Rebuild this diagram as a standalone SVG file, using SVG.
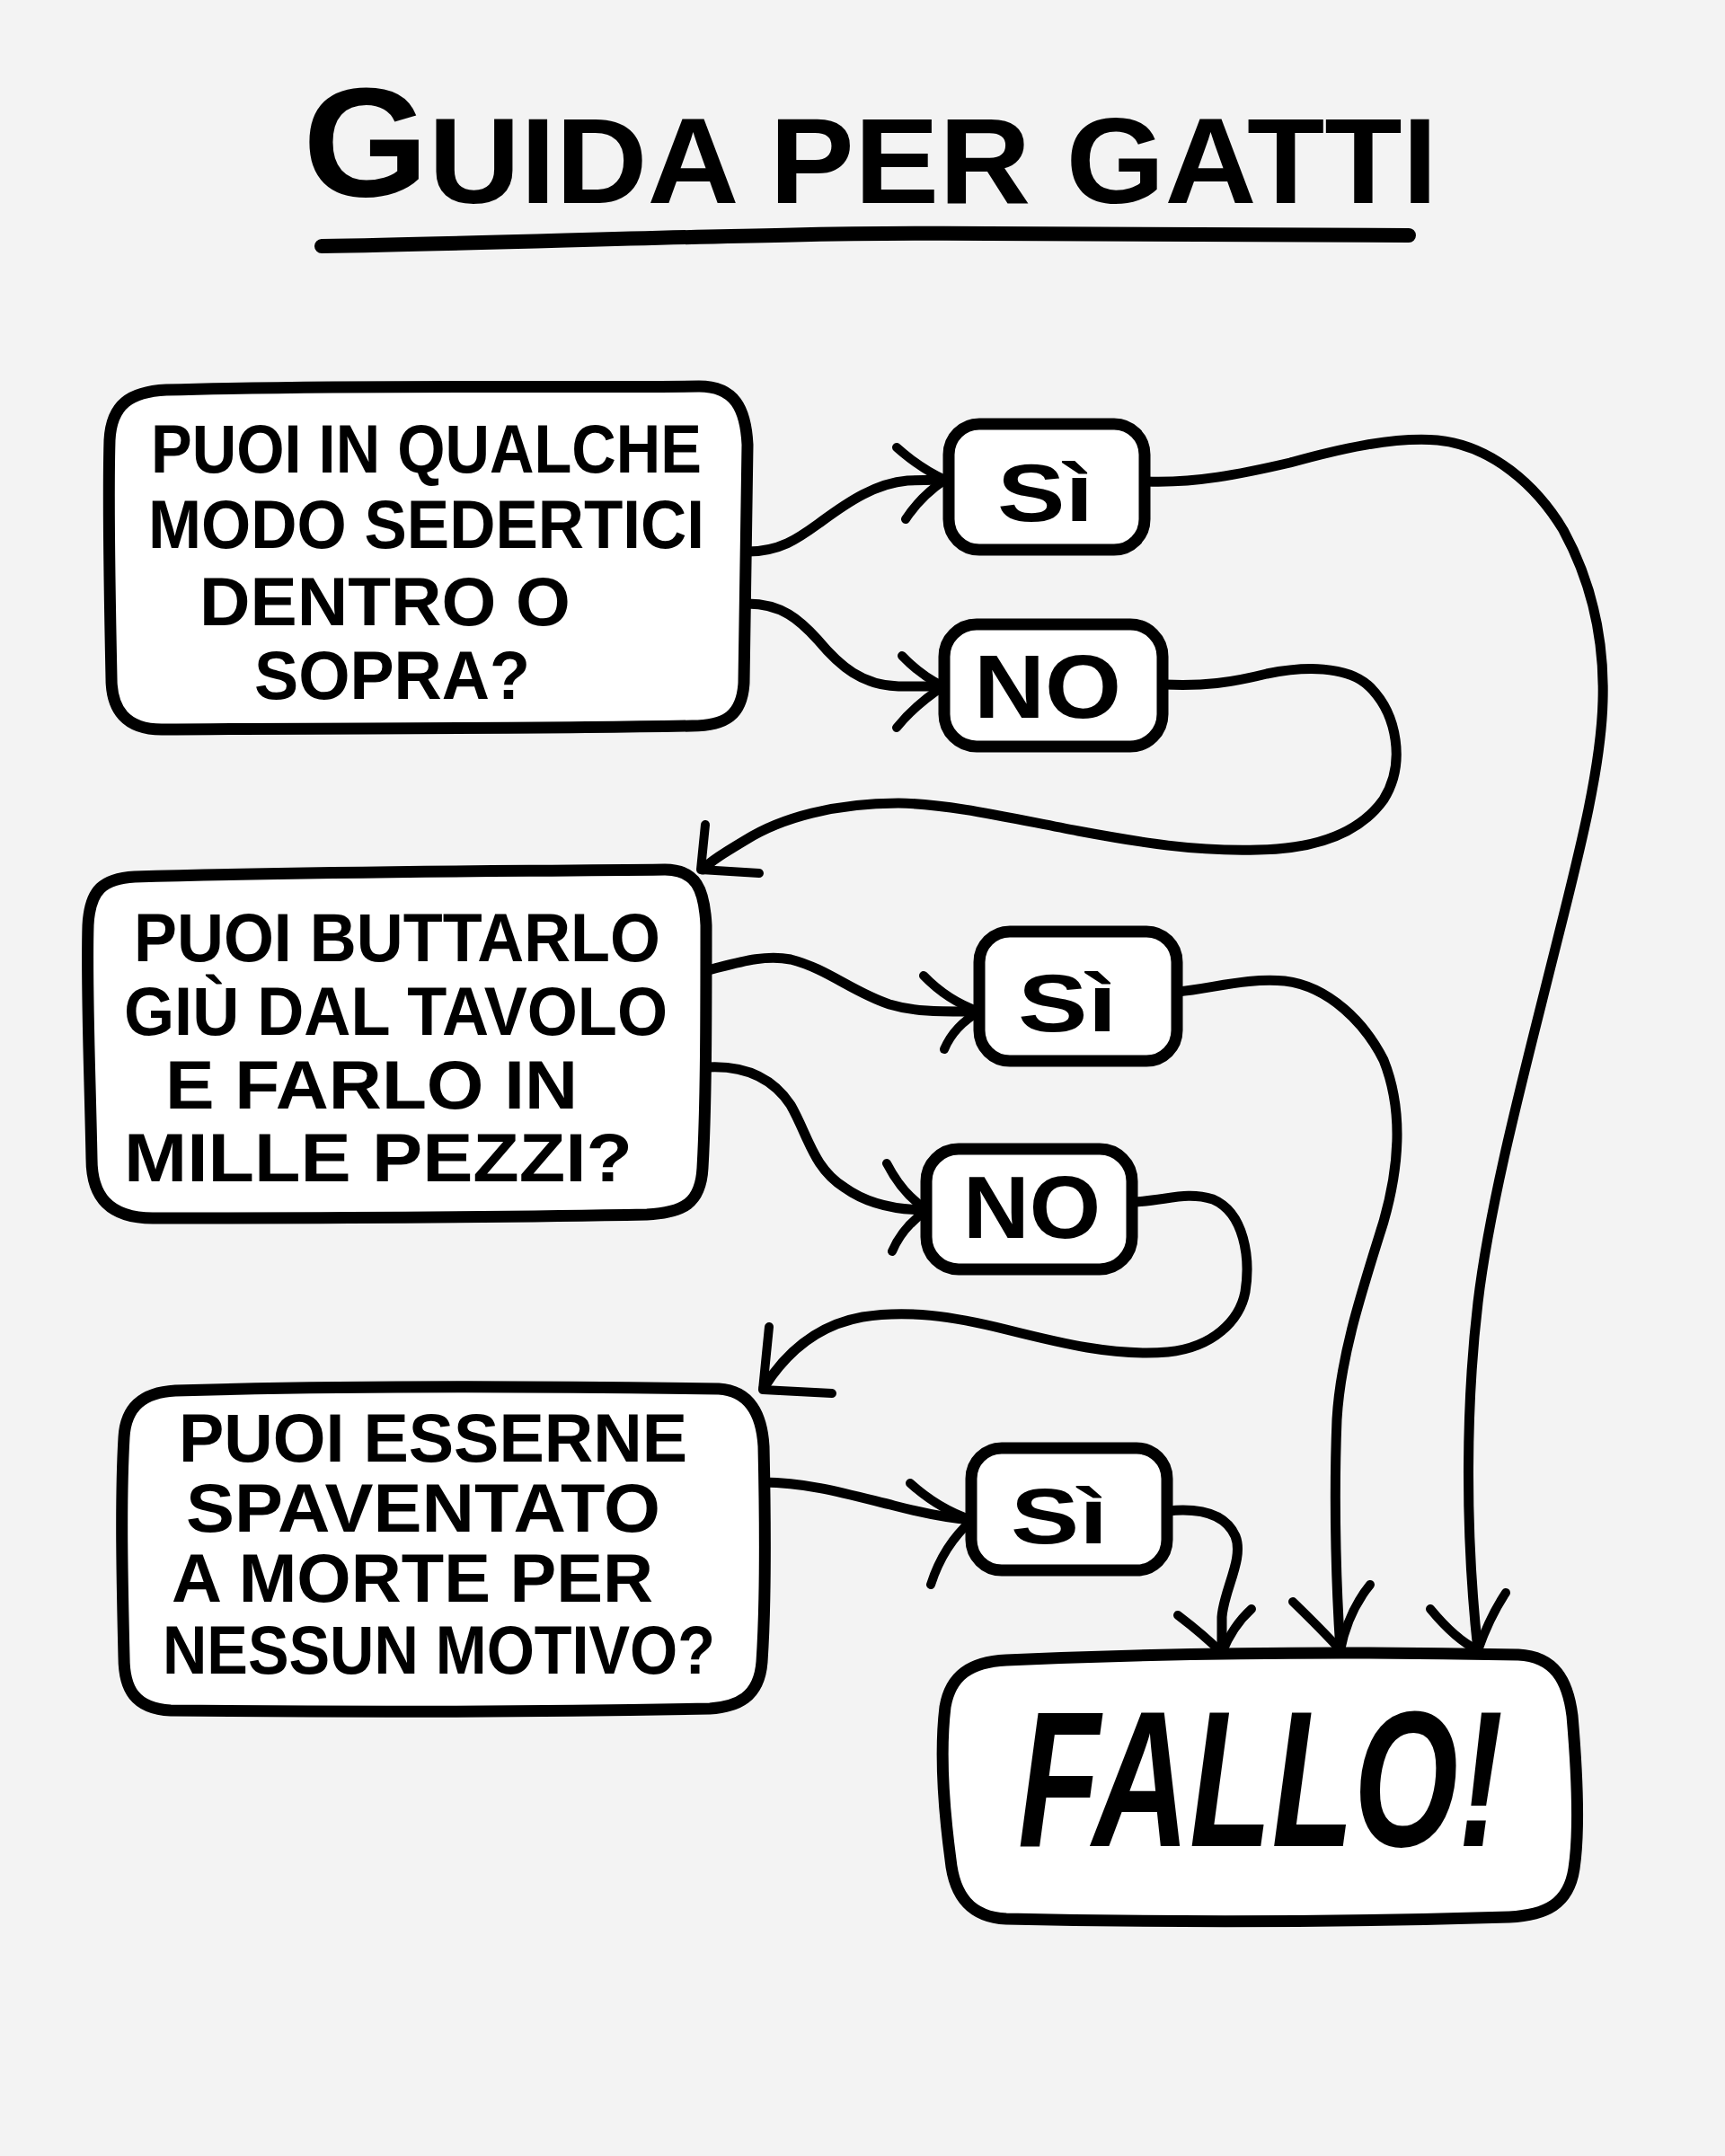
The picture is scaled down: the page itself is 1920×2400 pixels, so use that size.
<svg xmlns="http://www.w3.org/2000/svg" width="1920" height="2400" viewBox="0 0 1920 2400">
<style>
.box{fill:#ffffff;stroke:#000;stroke-width:13;stroke-linejoin:round}
.con{fill:none;stroke:#000;stroke-width:11;stroke-linecap:round;stroke-linejoin:round}
.arm{fill:none;stroke:#000;stroke-width:10;stroke-linecap:round;stroke-linejoin:round}
.q{font-family:"Liberation Sans","DejaVu Sans",sans-serif;font-weight:700;font-size:76px;fill:#000}
.a{font-family:"Liberation Sans","DejaVu Sans",sans-serif;font-weight:700;fill:#000}
</style>
<rect x="0" y="0" width="1920" height="2400" fill="#f3f3f3"/>

<g id="title">
<text class="a" x="337" y="226" font-size="135" textLength="1263" lengthAdjust="spacingAndGlyphs"><tspan font-size="172" dy="-8">G</tspan><tspan dy="8">UIDA PER GATTI</tspan></text>
<path d="M 358,274 C 600,270 880,258 1100,260 C 1300,262 1450,262 1568,262" fill="none" stroke="#000" stroke-width="16" stroke-linecap="round"/>
</g>

<g id="connectors">
<!-- Box1 -> Si1 -->
<path class="con" d="M 832,614 C 870,614 890,598 915,580 C 945,558 975,538 1010,535 L 1052,534"/>
<path class="arm" d="M 998,498 Q 1025,522 1052,534 Q 1025,552 1008,578"/>
<!-- Box1 -> NO1 -->
<path class="con" d="M 832,672 C 870,672 890,690 910,712 C 935,742 960,763 1000,764 L 1050,764"/>
<path class="arm" d="M 1004,730 Q 1025,752 1050,764 Q 1018,785 998,810"/>
<!-- Si1 -> FALLO -->
<path class="con" d="M 1276,536 C 1330,538 1380,528 1436,515 C 1490,500 1550,486 1600,490 C 1660,496 1710,540 1740,590 C 1770,645 1786,710 1784,780 C 1782,860 1755,960 1725,1080 C 1695,1200 1658,1340 1645,1450 C 1632,1560 1630,1700 1645,1837"/>
<path class="arm" d="M 1592,1791 Q 1620,1825 1645,1837 Q 1658,1800 1676,1773"/>
<!-- NO1 -> Box2 -->
<path class="con" d="M 1296,762 C 1340,764 1370,760 1410,750 C 1450,742 1500,740 1525,765 C 1555,795 1565,850 1540,890 C 1515,925 1470,945 1400,946 C 1330,948 1270,938 1200,925 C 1130,912 1060,895 1000,894 C 930,894 870,910 830,935 C 805,950 792,958 782,968"/>
<path class="arm" d="M 785,918 L 780,968 L 845,972"/>
<!-- Box2 -> Si2 -->
<path class="con" d="M 788,1080 C 820,1072 850,1062 880,1068 C 920,1078 950,1105 990,1118 C 1020,1127 1050,1126 1090,1126"/>
<path class="arm" d="M 1028,1086 Q 1055,1114 1090,1126 Q 1062,1142 1051,1168"/>
<!-- Box2 -> NO2 -->
<path class="con" d="M 788,1188 C 830,1186 860,1200 880,1230 C 900,1265 905,1300 940,1322 C 965,1340 995,1347 1032,1347"/>
<path class="arm" d="M 987,1295 Q 1005,1330 1032,1347 Q 1005,1365 993,1393"/>
<!-- NO2 -> Box3 -->
<path class="con" d="M 1262,1338 C 1300,1336 1320,1326 1350,1335 C 1385,1350 1392,1400 1386,1438 C 1380,1470 1350,1500 1300,1505 C 1240,1510 1180,1495 1120,1480 C 1060,1465 1010,1458 960,1466 C 910,1475 875,1505 850,1545"/>
<path class="arm" d="M 856,1477 L 849,1547 L 926,1551"/>
<!-- Si2 -> FALLO -->
<path class="con" d="M 1311,1104 C 1350,1100 1390,1088 1430,1092 C 1480,1098 1520,1140 1540,1180 C 1560,1230 1560,1290 1540,1360 C 1515,1440 1492,1510 1488,1580 C 1484,1680 1488,1780 1492,1837"/>
<path class="arm" d="M 1439,1783 Q 1472,1815 1492,1837 Q 1500,1795 1525,1764"/>
<!-- Box3 -> Si3 -->
<path class="con" d="M 850,1650 C 900,1650 950,1665 995,1676 C 1030,1685 1055,1690 1082,1692"/>
<path class="arm" d="M 1013,1651 Q 1045,1680 1082,1692 Q 1050,1720 1036,1764"/>
<!-- Si3 -> FALLO -->
<path class="con" d="M 1300,1682 C 1340,1678 1365,1688 1375,1710 C 1385,1735 1362,1770 1360,1800 L 1360,1840"/>
<path class="arm" d="M 1311,1798 Q 1340,1820 1360,1840 Q 1372,1810 1393,1791"/>
</g>

<g id="q1">
<path class="box" d="M 185,434 C 400,428 600,432 778,430 C 818,430 830,455 832,495 L 828,760 C 826,796 808,808 770,808 C 560,812 360,810 180,812 C 140,812 124,790 124,755 C 122,660 120,560 122,490 C 124,450 145,436 185,434 Z"/>
<text class="q" x="168" y="526" textLength="613" lengthAdjust="spacingAndGlyphs">PUOI IN QUALCHE</text>
<text class="q" x="165" y="610" textLength="619" lengthAdjust="spacingAndGlyphs">MODO SEDERTICI</text>
<text class="q" x="222" y="696" textLength="413" lengthAdjust="spacingAndGlyphs">DENTRO O</text>
<text class="q" x="283" y="778" textLength="307" lengthAdjust="spacingAndGlyphs">SOPRA?</text>
</g>

<g id="si1">
<rect class="box" x="1056" y="472" width="218" height="140" rx="34"/>
<text class="a" x="1110" y="580" font-size="90" textLength="107" lengthAdjust="spacingAndGlyphs">Sì</text>
</g>

<g id="no1">
<rect class="box" x="1051" y="695" width="243" height="136" rx="36"/>
<text class="a" x="1084" y="799" font-size="100" textLength="164" lengthAdjust="spacingAndGlyphs">NO</text>
</g>

<g id="q2">
<path class="box" d="M 150,976 C 350,970 560,970 740,968 C 775,968 784,990 786,1030 C 786,1130 786,1230 782,1300 C 780,1340 760,1350 720,1352 C 520,1356 320,1356 170,1356 C 120,1356 102,1330 102,1290 C 100,1190 96,1100 98,1030 C 100,990 115,978 150,976 Z"/>
<text class="q" x="149" y="1070" textLength="586" lengthAdjust="spacingAndGlyphs">PUOI BUTTARLO</text>
<text class="q" x="138" y="1152" textLength="605" lengthAdjust="spacingAndGlyphs">GIÙ DAL TAVOLO</text>
<text class="q" x="184" y="1234" textLength="459" lengthAdjust="spacingAndGlyphs">E FARLO IN</text>
<text class="q" x="138" y="1315" textLength="566" lengthAdjust="spacingAndGlyphs">MILLE PEZZI?</text>
</g>

<g id="si2">
<rect class="box" x="1090" y="1037" width="220" height="144" rx="34"/>
<text class="a" x="1133" y="1148" font-size="90" textLength="110" lengthAdjust="spacingAndGlyphs">Sì</text>
</g>

<g id="no2">
<rect class="box" x="1031" y="1279" width="229" height="134" rx="36"/>
<text class="a" x="1072" y="1378" font-size="98" textLength="153" lengthAdjust="spacingAndGlyphs">NO</text>
</g>

<g id="q3">
<path class="box" d="M 195,1548 C 400,1542 600,1543 800,1546 C 835,1548 848,1575 850,1610 C 852,1700 852,1790 848,1850 C 845,1890 820,1900 790,1902 C 580,1906 380,1906 190,1904 C 150,1902 138,1880 138,1845 C 136,1760 134,1670 138,1600 C 140,1565 160,1550 195,1548 Z"/>
<text class="q" x="199" y="1627" textLength="566" lengthAdjust="spacingAndGlyphs">PUOI ESSERNE</text>
<text class="q" x="207" y="1705" textLength="528" lengthAdjust="spacingAndGlyphs">SPAVENTATO</text>
<text class="q" x="191" y="1783" textLength="536" lengthAdjust="spacingAndGlyphs">A MORTE PER</text>
<text class="q" x="181" y="1863" textLength="615" lengthAdjust="spacingAndGlyphs">NESSUN MOTIVO?</text>
</g>

<g id="si3">
<rect class="box" x="1081" y="1612" width="218" height="136" rx="34"/>
<text class="a" x="1125" y="1718" font-size="88" textLength="108" lengthAdjust="spacingAndGlyphs">Sì</text>
</g>

<g id="fallo">
<path class="box" d="M 1120,1848 C 1300,1840 1500,1838 1690,1842 C 1730,1844 1745,1870 1750,1910 C 1756,1980 1758,2040 1752,2080 C 1746,2120 1720,2132 1680,2134 C 1480,2140 1300,2140 1120,2136 C 1080,2134 1062,2110 1058,2070 C 1050,2010 1046,1950 1052,1900 C 1058,1865 1080,1850 1120,1848 Z"/>
<text class="a" x="1133" y="2055" font-size="215" font-style="italic" font-weight="400" textLength="540" lengthAdjust="spacingAndGlyphs">FALLO!</text>
</g>
</svg>
